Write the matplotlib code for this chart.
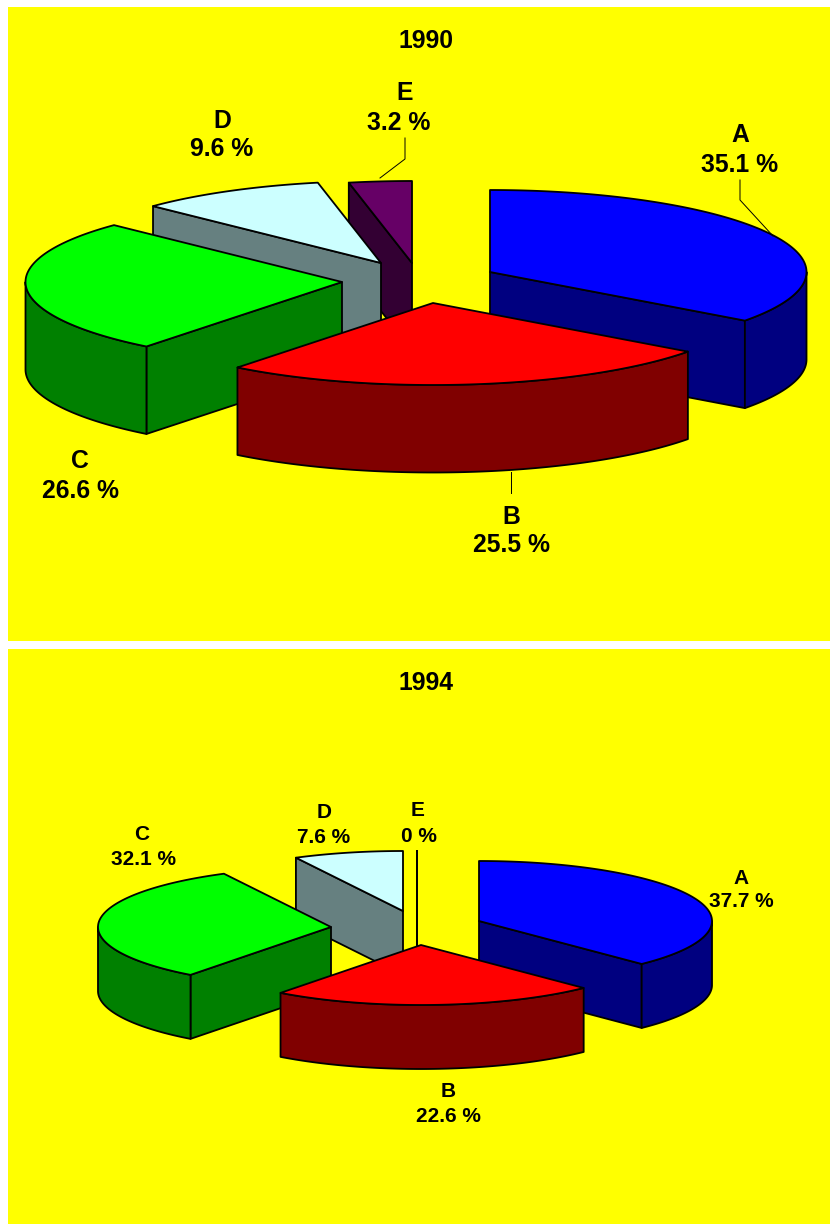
import numpy as np
import matplotlib
matplotlib.use("Agg")
import matplotlib.pyplot as plt
from matplotlib.patches import Polygon, Rectangle

categories = ["A", "B", "C", "D", "E"]
values_1990 = [35.1, 25.5, 26.6, 9.6, 3.2]
values_1994 = [37.7, 22.6, 32.1, 7.6, 0]
years = ["1990", "1994"]

top_colors = ["#0000FF", "#FF0000", "#00FF00", "#CCFFFF", "#660066"]
wall_colors = ["#000080", "#800000", "#008000", "#668080", "#330033"]
YELLOW = "#FFFF00"
FONT = ["Liberation Sans", "DejaVu Sans"]

fig = plt.figure(figsize=(8.3, 12.24), dpi=100, facecolor="white")
ax = fig.add_axes([0, 0, 1, 1])
ax.set_xlim(0, 830)
ax.set_ylim(1224, 0)
ax.axis("off")


def pt(center, rx, ry, deg):
    t = np.radians(deg)
    return center[0] + rx * np.sin(t), center[1] - ry * np.cos(t)


def poly(points, color, z, lw=1.3):
    ax.add_patch(Polygon(points, closed=True, facecolor=color, edgecolor="black",
                         linewidth=lw, joinstyle="round", zorder=z))


def draw_slice(center, rx, ry, depth, a, b, top, wall, z):
    arc = np.linspace(a, b, max(int(b - a) * 2, 2))
    xs, ys = pt(center, rx, ry, arc)
    ax_pts = np.column_stack([xs, ys])
    c = np.array(center, dtype=float)
    # radial faces seen from the front
    if np.sin(np.radians(a)) < 0:
        p = np.array(pt(center, rx, ry, a))
        poly([c, p, p + [0, depth], c + [0, depth]], wall, z)
    if np.sin(np.radians(b)) > 0:
        p = np.array(pt(center, rx, ry, b))
        poly([c, p, p + [0, depth], c + [0, depth]], wall, z)
    # outer wall for the front half of the rim
    lo, hi = max(a, 90), min(b, 270)
    if hi > lo:
        fr = np.linspace(lo, hi, max(int(hi - lo) * 2, 2))
        fx, fy = pt(center, rx, ry, fr)
        upper = np.column_stack([fx, fy])
        lower = np.column_stack([fx, fy + depth])[::-1]
        poly(np.vstack([upper, lower]), wall, z)
    poly(np.vstack([[c], ax_pts]), top, z + 0.5)


def draw_pie(values, center, rx, ry, depth, explode, order):
    edges = np.concatenate([[0], np.cumsum(values)]) * 3.6
    for rank, i in enumerate(order):
        apex = (center[0] + explode[i][0], center[1] + explode[i][1])
        draw_slice(apex, rx, ry, depth, edges[i], edges[i + 1],
                   top_colors[i], wall_colors[i], 2 + rank)


def label(x, y, s, size):
    ax.text(x, y, s, ha="center", va="center", fontsize=size, fontweight="bold",
            family=FONT, color="black", zorder=20)


ax.add_patch(Rectangle((8, 7), 822, 634, facecolor=YELLOW, edgecolor="none", zorder=0))
ax.add_patch(Rectangle((8, 649), 822, 575, facecolor=YELLOW, edgecolor="none", zorder=0))

draw_pie(values_1990, (420, 270), 316.5, 82, 87.5,
         [(70, 2), (13, 33), (-78, 12), (-39, -7), (-8, -7)], [4, 3, 0, 2, 1])
draw_pie(values_1994, (420, 920), 233, 60, 64,
         [(59, 1), (1, 25), (-89, 7), (-17, -9), (-3, -9)], [4, 3, 0, 2, 1])

# leader lines
for xs, ys in [([740, 740, 773], [180, 200, 236]),
               ([405, 405, 380], [138, 159, 178]),
               ([511, 511], [472, 493])]:
    ax.plot(xs, ys, color="black", lw=0.7, zorder=15)

S1, S2 = 17.8, 15
label(425.5, 41.5, years[0], S1)
label(425.5, 683.5, years[1], S1)

pos_1990 = [((740, 135.5), (740, 165.5)), ((511, 516.5), (511, 545.5)), ((80, 461.5), (80, 491.5)),
            ((222, 120.5), (222, 149.5)), ((405, 92.5), (399, 122.5))]
pos_1994 = [((741, 878.5), (741, 901.5)), ((448, 1091.5), (448, 1116.5)), ((142, 834.5), (143, 859.5)),
            ((324, 812.5), (324, 837.5)), ((418, 810.5), (419, 836.5))]
for vals, pos, size in [(values_1990, pos_1990, S1), (values_1994, pos_1994, S2)]:
    for name, v, (p1, p2) in zip(categories, vals, pos):
        label(p1[0], p1[1], name, size)
        label(p2[0], p2[1], f"{v:g} %", size)

fig.savefig("out.png", dpi=100, facecolor="white")
